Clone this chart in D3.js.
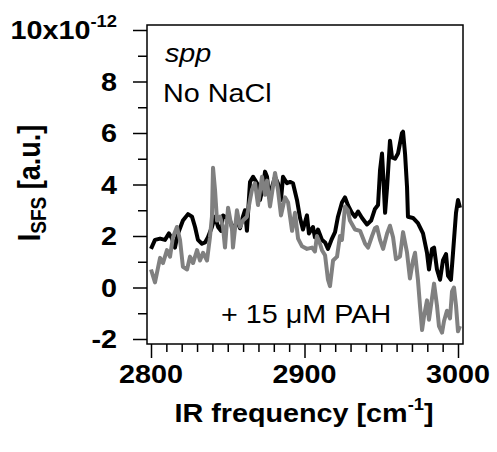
<!DOCTYPE html>
<html>
<head>
<meta charset="utf-8">
<script src="https://cdn.jsdelivr.net/npm/d3@7"></script>
<style>
  body { margin: 0; background: white; }
</style>
</head>
<body>
<svg id="chart" width="497" height="452"></svg>
<script>
// IR frequency [cm-1] and I_SFS [x1e-12]
let noSaltFreq = [2800.0, 2802.6, 2805.9, 2809.1, 2811.7, 2813.7, 2815.6, 2817.6, 2820.8, 2824.1,
  2826.7, 2828.7, 2830.6, 2833.2, 2835.2, 2837.1, 2839.7, 2841.7, 2843.7, 2845.6,
  2846.9, 2849.5, 2851.5, 2853.4, 2856.0, 2858.0, 2859.9, 2861.2, 2862.5, 2864.5,
  2866.5, 2869.1, 2871.0, 2873.0, 2874.3, 2875.6, 2876.9, 2878.8, 2880.8, 2882.7,
  2884.7, 2886.0, 2888.6, 2890.6, 2892.5, 2895.1, 2897.1, 2899.0, 2901.6, 2902.9,
  2905.5, 2906.8, 2908.8, 2911.4, 2913.4, 2915.3, 2917.9, 2919.9, 2921.8, 2924.4,
  2926.4, 2928.3, 2930.9, 2932.9, 2934.9, 2937.5, 2940.7, 2943.4, 2945.9, 2947.9,
  2949.2, 2950.5, 2951.2, 2952.5, 2953.8, 2955.7, 2957.0, 2959.0, 2960.9, 2963.5,
  2964.2, 2965.5, 2966.8, 2967.4, 2970.7, 2973.9, 2977.2, 2979.8, 2981.1, 2983.1,
  2984.4, 2986.3, 2988.3, 2990.2, 2992.2, 2993.5, 2995.4, 2996.7, 2998.7, 3000.0, 3001.3]
let noSaltSignal = [1.5, 1.85, 1.9, 1.85, 2.1, 1.9, 1.55, 2.1, 2.6, 2.85,
  2.75, 2.35, 1.85, 1.7, 1.75, 1.95, 2.35, 2.75, 2.35, 2.2,
  2.8, 2.7, 2.6, 2.2, 2.6, 2.3, 2.75, 3.0, 2.2, 4.1,
  4.3, 4.05, 3.4, 3.9, 4.5, 4.3, 3.5, 3.9, 4.3, 4.05,
  3.4, 4.3, 4.05, 4.1, 4.05, 3.4, 2.7, 2.25, 2.8, 2.1,
  2.35, 1.95, 2.25, 1.85, 1.75, 1.5, 1.9, 2.15, 2.75, 3.3,
  3.5, 3.2, 2.9, 2.75, 2.95, 2.7, 2.45, 2.6, 3.05, 3.2,
  4.55, 5.2, 4.45, 2.9, 3.9, 5.7, 5.05, 5.0, 5.2, 6.0,
  6.05, 5.2, 3.9, 2.75, 2.7, 2.5, 2.1, 1.35, 0.7, 1.5,
  1.55, 0.7, 0.3, 1.05, 1.3, 0.45, 0.3, 1.3, 2.9, 3.4, 3.1]

let pahFreq = [2800.0, 2802.6, 2805.9, 2807.8, 2810.4, 2812.4, 2814.3, 2816.9, 2818.9, 2820.8,
  2823.5, 2825.4, 2827.4, 2830.0, 2831.9, 2833.9, 2836.5, 2838.4, 2839.7, 2840.4,
  2841.7, 2843.0, 2845.0, 2846.9, 2848.2, 2850.2, 2852.8, 2853.4, 2856.0, 2858.0,
  2859.9, 2862.5, 2864.5, 2865.8, 2867.8, 2869.7, 2872.3, 2874.3, 2875.6, 2877.5,
  2878.8, 2880.8, 2882.7, 2884.7, 2887.3, 2889.3, 2891.9, 2893.8, 2895.8, 2898.4,
  2901.6, 2904.9, 2906.8, 2908.1, 2910.1, 2911.4, 2913.4, 2915.3, 2916.6, 2918.6,
  2921.2, 2923.1, 2924.4, 2926.4, 2928.3, 2929.6, 2932.9, 2936.2, 2939.5, 2941.4,
  2944.0, 2945.9, 2947.2, 2949.2, 2951.2, 2953.8, 2955.7, 2957.7, 2959.6, 2962.2,
  2964.2, 2966.8, 2968.7, 2970.7, 2972.0, 2973.9, 2975.3, 2976.6, 2977.9, 2979.8,
  2981.1, 2983.1, 2984.4, 2986.3, 2987.6, 2989.6, 2990.9, 2992.8, 2994.8, 2996.1,
  2997.4, 2998.7, 3000.0, 3001.3]
let pahSignal = [0.7, 0.2, 1.15, 0.95, 1.45, 1.2, 1.95, 2.35, 1.85, 0.8,
  0.7, 1.2, 0.95, 1.45, 1.05, 1.35, 1.05, 1.95, 2.75, 4.65,
  3.8, 2.6, 2.75, 2.35, 1.55, 3.1, 2.25, 1.55, 3.0, 2.35,
  2.6, 2.75, 3.4, 3.8, 4.05, 3.2, 4.3, 3.6, 4.15, 3.15,
  3.65, 4.45, 3.8, 2.8, 3.5, 3.3, 2.2, 2.9, 1.9, 1.6,
  1.5, 1.55, 1.4, 2.0, 1.7, 1.45, 1.25, 0.3, 0.05, 1.05,
  1.2, 2.0, 1.85, 3.15, 3.0, 2.6, 2.25, 2.2, 1.7, 1.55,
  2.0, 2.3, 2.35, 1.85, 1.5, 2.1, 2.4, 1.95, 1.1, 1.2,
  2.15, 1.35, 0.35, 1.05, 1.35, 0.3, -0.75, -1.65, -1.1, -0.5,
  -1.25, -0.4, 0.15, -0.7, -1.5, -1.75, -1.3, -0.9, -1.2, -0.15,
  0.0, -0.7, -1.7, -1.5]

let xMajorTicks = [2800, 2900, 3000]
let xMinorTicks = [2810, 2820, 2830, 2840, 2850, 2860, 2870, 2880, 2890,
  2910, 2920, 2930, 2940, 2950, 2960, 2970, 2980, 2990]
let yMajorTicks = [-2, 0, 2, 4, 6, 8, 10]
let yMinorTicks = [-1, 1, 3, 5, 7, 9]

const frame = {left: 147, right: 463, top: 25, bottom: 344}
const font = 'Liberation Sans, Arial, Helvetica, sans-serif'
// the original figure is stretched sideways, text included
const stretch = 1.15

let svg = d3.select('#chart')

let xScale = d3.scaleLinear()
               .domain([2800, 3000])
               .range([151, 458])

let yScale = d3.scaleLinear()
               .domain([-2, 10])
               .range([339, 30])

let lineGenerator = d3.line()
                      .x(d => xScale(d[0]))
                      .y(d => yScale(d[1]))

let addText = (x, y, size) => {
  return svg.append('text')
            .attr('transform', `translate(${x},${y})scale(${stretch},1)`)
            .style('font-family', font)
            .style('font-size', size)
}

let plotArea = svg.append('g')

plotArea.append('path')
        .datum(d3.zip(noSaltFreq, noSaltSignal))
        .attr('d', lineGenerator)
        .style('fill', 'none')
        .style('stroke', '#000')
        .style('stroke-width', 4)
        .style('stroke-linejoin', 'round')

plotArea.append('path')
        .datum(d3.zip(pahFreq, pahSignal))
        .attr('d', lineGenerator)
        .style('fill', 'none')
        .style('stroke', '#808080')
        .style('stroke-width', 4)
        .style('stroke-linejoin', 'round')

svg.append('rect')
   .attr('x', frame.left)
   .attr('y', frame.top)
   .attr('width', frame.right - frame.left)
   .attr('height', frame.bottom - frame.top)
   .style('fill', 'none')
   .style('stroke', '#000')
   .style('stroke-width', 1.5)

// ticks
let tickGroup = (axis, transform) => {
  let g = svg.append('g')
             .attr('transform', transform)
             .call(axis)
  g.select('.domain').remove()
  g.selectAll('line').style('stroke-width', 1.5)
}

tickGroup(d3.axisLeft(yScale).tickValues(yMajorTicks).tickSize(14).tickFormat(''), `translate(${frame.left},0)`)
tickGroup(d3.axisLeft(yScale).tickValues(yMinorTicks).tickSize(9).tickFormat(''), `translate(${frame.left},0)`)
tickGroup(d3.axisBottom(xScale).tickValues(xMajorTicks).tickSize(14).tickFormat(''), `translate(0,${frame.bottom})`)
tickGroup(d3.axisBottom(xScale).tickValues(xMinorTicks).tickSize(8).tickFormat(''), `translate(0,${frame.bottom})`)

// y tick labels
yMajorTicks.forEach(v => {
  let label = addText(117, yScale(v) + 9, 25)
                .style('text-anchor', 'end')
                .style('font-weight', 'bold')
  if(v == 10){
    label.append('tspan').text('10x10')
    label.append('tspan')
         .text('-12')
         .attr('dy', -12)
         .style('font-size', 16)
  }
  else{
    label.text(v)
  }
})

// x tick labels
xMajorTicks.forEach(v => {
  addText(xScale(v), 383, 25)
     .text(v)
     .style('text-anchor', 'middle')
     .style('font-weight', 'bold')
})

// axis titles
let xTitle = addText(304, 422, 25)
                .style('text-anchor', 'middle')
                .style('font-weight', 'bold')
xTitle.append('tspan').text('IR frequency [cm')
xTitle.append('tspan').text('-1').attr('dy', -12).style('font-size', 16)
xTitle.append('tspan').text(']').attr('dy', 12)

let yTitle = svg.append('text')
                .attr('transform', `translate(40,183)rotate(-90)scale(1,${stretch})`)
                .style('text-anchor', 'middle')
                .style('font-family', font)
                .style('font-weight', 'bold')
                .style('font-size', 27)
yTitle.append('tspan').text('I')
yTitle.append('tspan').text('SFS').attr('dy', 5).style('font-size', 19)
yTitle.append('tspan').text(' [a.u.]').attr('dy', -5)

// annotations
addText(165, 62, 25)
   .text('spp')
   .style('font-style', 'italic')

addText(163, 102, 25)
   .text('No NaCl')

addText(221, 323, 25)
   .text('+ 15 \u03bcM PAH')
</script>
</body>
</html>
